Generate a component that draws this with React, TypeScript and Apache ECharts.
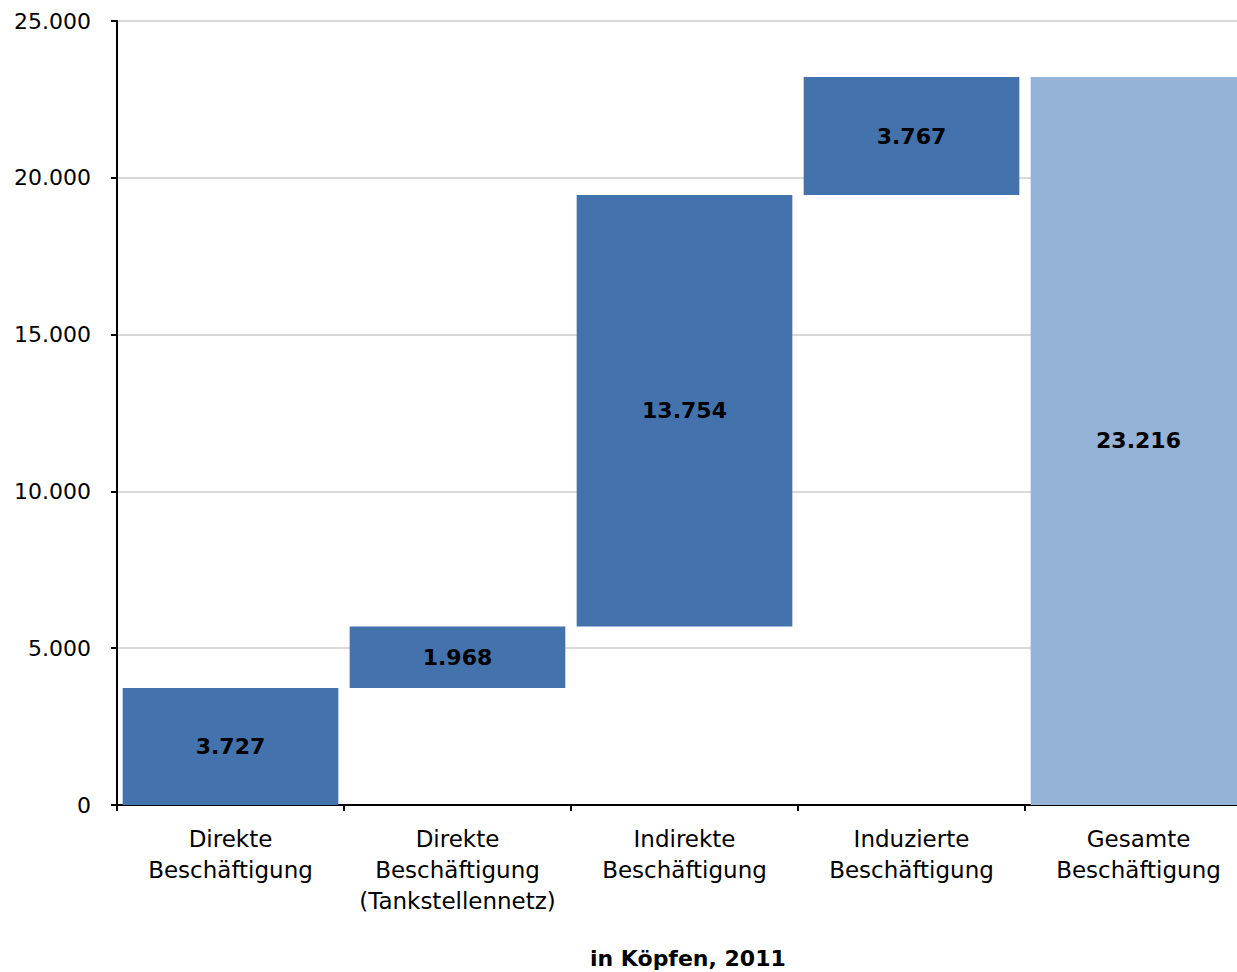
import React, { useEffect, useRef } from "react";
import * as echarts from "echarts";

const categories = [
  "Direkte\nBeschäftigung",
  "Direkte\nBeschäftigung\n(Tankstellennetz)",
  "Indirekte\nBeschäftigung",
  "Induzierte\nBeschäftigung",
  "Gesamte\nBeschäftigung",
];
const values = [3727, 1968, 13754, 3767, 23216];
const isTotal = [false, false, false, false, true];
const yTicks = { min: 0, max: 25000, interval: 5000 };
const axisTitle = "in Köpfen, 2011";

const FONT = "DejaVu Sans";
const fmt = (v: number) =>
  String(Math.round(v)).replace(/\B(?=(\d{3})+(?!\d))/g, ".");

export default function App() {
  const ref = useRef<HTMLDivElement>(null);
  useEffect(() => {
    if (!ref.current) return;
    const chart = echarts.init(ref.current, undefined, { renderer: "svg" });
    let acc = 0;
    const bases: number[] = values.map((v, i) => {
      if (isTotal[i]) return 0;
      const b = acc;
      acc += v;
      return b;
    });
    chart.setOption({
      animation: false,
      backgroundColor: "#ffffff",
      grid: { left: 117, top: 21, bottom: 167, right: 0, containLabel: false },
      xAxis: {
        type: "category",
        data: categories,
        axisLine: { lineStyle: { color: "#000", width: 2 } },
        axisTick: { show: true, length: 6, lineStyle: { color: "#000", width: 2 }, alignWithLabel: false },
        axisLabel: {
          interval: 0,
          margin: 18,
          fontFamily: FONT,
          fontSize: 23,
          lineHeight: 31,
          color: "#000",
          align: "center",
        },
      },
      yAxis: {
        type: "value",
        min: yTicks.min,
        max: yTicks.max,
        interval: yTicks.interval,
        axisLine: { show: true, lineStyle: { color: "#000", width: 2 } },
        axisTick: { show: true, length: 6, lineStyle: { color: "#000", width: 2 } },
        axisLabel: {
          margin: 26,
          fontFamily: FONT,
          fontSize: 22,
          color: "#000",
          formatter: (v: number) => fmt(v),
        },
        splitLine: { show: true, lineStyle: { color: "#d9d9d9", width: 2 } },
      },
      series: [
        {
          type: "bar",
          stack: "w",
          data: bases,
          itemStyle: { color: "transparent" },
          emphasis: { disabled: true },
          barCategoryGap: "5%",
          silent: true,
        },
        {
          type: "bar",
          stack: "w",
          barCategoryGap: "5%",
          data: values.map((v, i) => ({
            value: v,
            itemStyle: { color: isTotal[i] ? "#95b3d7" : "#4372ad" },
          })),
          label: {
            show: true,
            position: "inside",
            fontFamily: FONT,
            fontSize: 22,
            fontWeight: "bold",
            color: "#000",
            formatter: (p: any) => fmt(p.value),
          },
        },
      ],
      graphic: [
        {
          type: "text",
          left: 690 - 100,
          top: 947,
          style: {
            text: axisTitle,
            x: 100,
            textAlign: "center",
            font: `bold 22px "${FONT}"`,
            fill: "#000",
          },
        },
      ],
    });
    return () => chart.dispose();
  }, []);
  return (
    <div
      style={{ position: "absolute", left: 0, top: 0, width: 1237, height: 972, overflow: "hidden" }}
    >
      <div ref={ref} style={{ width: 1252, height: 972 }} />
    </div>
  );
}
